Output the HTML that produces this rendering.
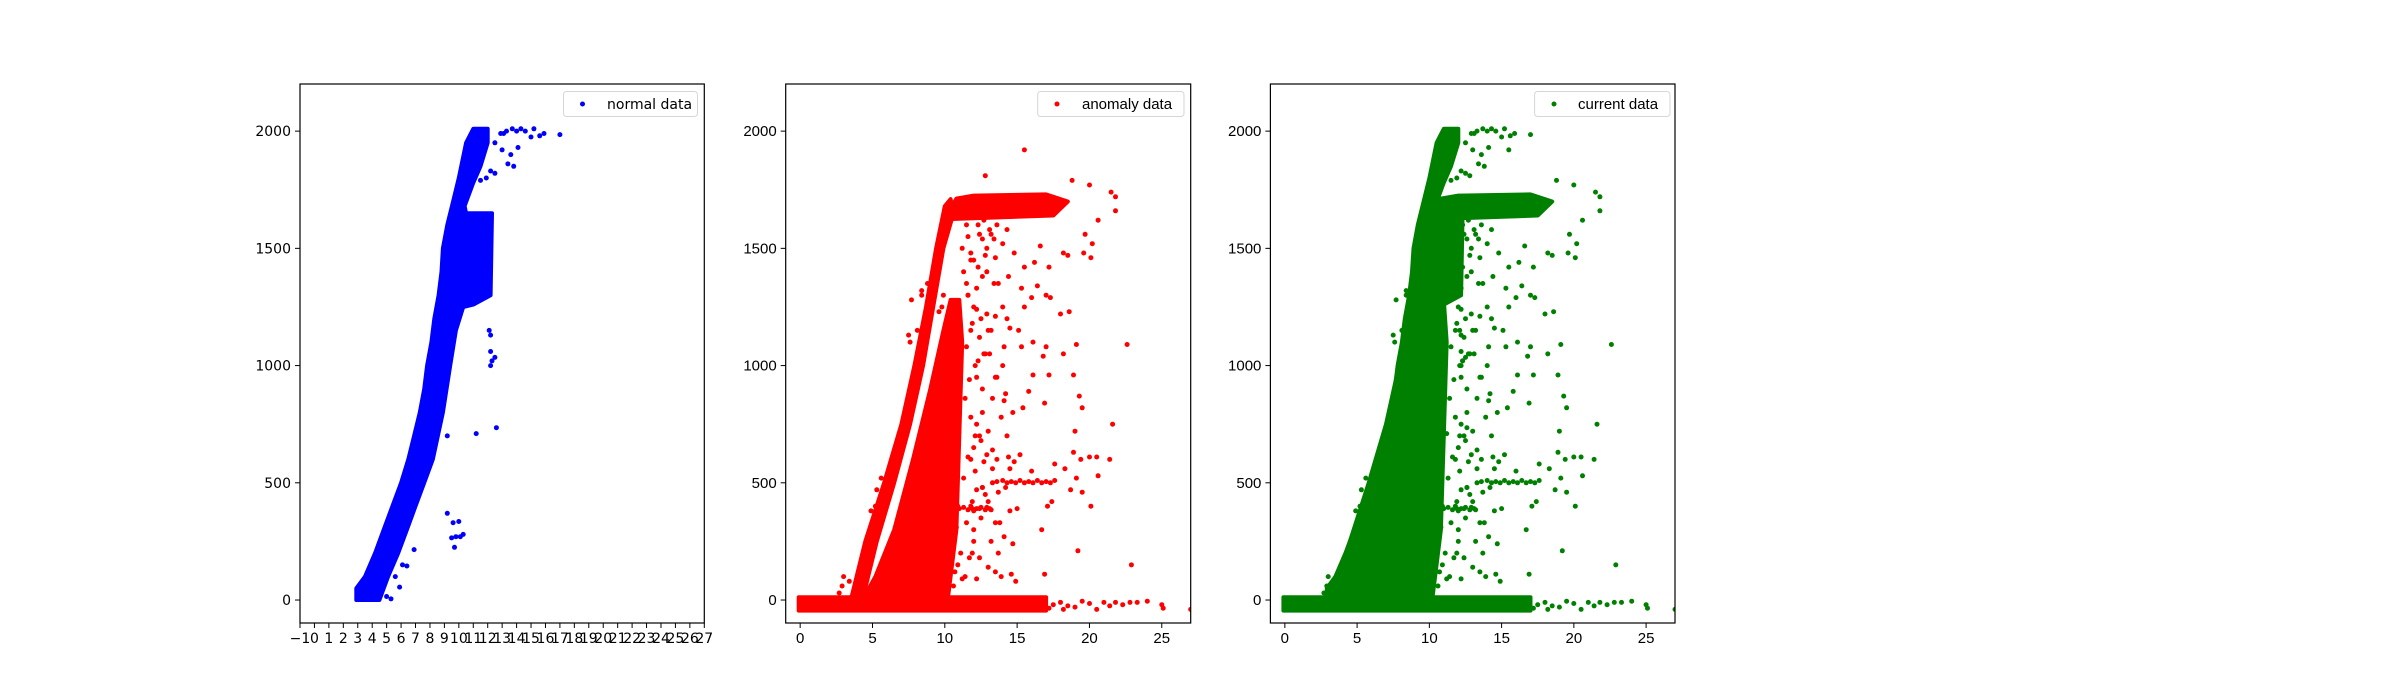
<!DOCTYPE html>
<html><head><meta charset="utf-8">
<style>
html,body{margin:0;padding:0;background:#fff;}
svg{display:block;}
text{font-family:"DejaVu Sans","Liberation Sans",sans-serif;font-size:14px;fill:#000;}
.narrow text{font-family:"Liberation Sans Narrow","Liberation Sans",sans-serif;font-size:15px;}
</style></head>
<body>
<svg id="chart" width="2400" height="700" viewBox="0 0 2400 700" xmlns="http://www.w3.org/2000/svg">
<rect width="2400" height="700" fill="#fff"/>
</svg>
<script>
// ---- data ----
const xTicksFull = [-1,0,1,2,3,4,5,6,7,8,9,10,11,12,13,14,15,16,17,18,19,20,21,22,23,24,25,26,27];
const xTicksFive = [0,5,10,15,20,25];
const yTicks = [0,500,1000,1500,2000];
const xDomain = [-1,27];
const yDomain = [-98,2201];

// normal data dense region outline
const normalBandX = [2.9,2.9,3.5,4.2,4.8,5.4,6.0,6.5,6.9,7.3,7.6,7.8,8.1,8.3,8.6,8.8,8.9,9.2,9.6,10.0,10.5,11.0,12.0,12.0,11.5,11.0,10.4,10.5,12.3,12.2,11.0,10.3,9.8,9.4,8.9,8.2,7.6,7.0,6.4,5.8,5.1,4.5];
const normalBandY = [0,50,100,200,300,400,500,600,700,800,900,1000,1100,1200,1300,1400,1500,1600,1700,1800,1950,2010,2010,1950,1850,1780,1680,1650,1650,1300,1260,1250,1150,1000,800,600,500,400,300,200,100,0];
const normalX = [9.2,9.6,10.0,9.5,9.8,10.1,10.3,9.7,6.9,6.1,6.4,5.6,5.9,5.0,5.3,9.2,11.2,12.6,12.1,12.2,12.2,12.3,12.2,12.5,13.1,13.3,13.7,14.0,14.3,14.6,15.2,15.6,15.9,17.0,12.5,13.0,13.6,14.1,13.4,13.8,12.5,12.2,11.5,11.9,15.0,12.9];
const normalY = [370,330,335,265,270,270,280,225,215,150,145,100,55,15,5,700,710,735,1150,1130,1060,1020,1000,1035,1990,2000,2010,2000,2010,2000,2010,1980,1990,1985,1950,1920,1900,1930,1860,1850,1820,1830,1790,1800,1975,1990];

// anomaly dense regions
const anomBottomX = [-0.1,17,17,-0.1];
const anomBottomY = [-45,-45,12,12];
const anomStreakX = [3.5,4.5,5.8,7.0,7.9,8.7,9.4,10.0,10.4,10.6,9.9,9.2,8.5,7.6,6.5,5.3,4.3];
const anomStreakY = [0,250,500,750,1000,1250,1500,1680,1710,1650,1500,1250,1000,750,500,250,0];
const anomWedgeX = [4.3,10.2,10.8,11.0,11.2,11.0,10.4,9.9,9.0,7.8,6.5,5.2];
const anomWedgeY = [0,0,300,700,1100,1280,1280,1150,900,600,300,100];
const anomTopX = [10.5,17.5,18.5,17.0,12.0,10.8,10.3];
const anomTopY = [1625,1640,1700,1730,1725,1712,1660];
const anomX = [12.8,15.5,18.8,20.0,21.5,21.8,21.8,20.6,19.7,20.2,19.6,20.1,18.2,18.5,17.2,16.2,15.5,14.8,14.0,13.2,12.3,12.6,13.6,14.3,15.1,16.6,12.0,12.8,13.5,14.4,15.3,16.4,17.0,16.0,15.5,17.3,18.0,18.6,
12.2,12.5,12.9,13.5,14.3,14.5,15.1,14.1,14.0,13.1,13.5,12.6,12.1,12.4,15.3,16.1,17.0,16.1,15.8,15.4,14.7,14.1,13.3,12.6,13.0,12.2,12.0,14.3,16.9,18.2,19.1,18.9,19.3,19.5,19.0,21.6,22.6,16.8,17.2,7.7,7.5,8.4,
11.8,12.7,13.6,14.4,14.8,15.2,16.0,17.6,18.3,18.9,19.4,20.0,20.5,21.4,19.1,20.6,18.7,19.5,20.1,17.4,17.1,16.7,16.9,19.2,22.9,14.5,15.0,14.1,13.7,13.0,12.2,13.9,14.6,14.9,12.0,11.9,12.5,13.2,13.5,14.2,13.7,12.8,12.2,11.8,12.0,12.4,12.9,13.2,3.0,2.9,2.7,3.4,4.0,5.2,4.9,5.6,5.3,4.7,
14.0,14.3,14.6,14.9,15.2,15.5,15.8,16.1,16.4,16.7,17.0,17.3,17.6,13.6,13.3,
11.0,11.3,11.6,11.9,12.2,12.5,12.8,13.1,
17.5,18.0,18.5,19.0,19.5,20.0,20.5,21.0,21.4,21.8,22.3,22.8,23.3,24.0,25.0,25.1,27.0,16.5,17.2,18.2,
11.5,11.8,11.6,11.2,12.0,11.8,11.6,12.3,12.6,12.9,13.4,12.2,12.7,13.0,12.4,12.9,13.3,12.1,12.6,
11.4,11.7,12.0,11.5,11.9,11.3,11.6,12.1,11.8,11.4,11.7,12.3,11.5,11.9,12.2,11.6,11.3,11.8,12.4,11.5,
10.6,10.9,10.5,10.8,11.1,10.7,10.4,10.9,11.2,10.6,9.8,10.2,9.6,9.9,9.4,8.8,8.4,9.0,8.1,7.6,
12.7,13.1,13.4,12.9,13.7,14.0,13.2,12.8,13.6,14.2,13.9,12.5,13.3,14.5,12.6,13.0,13.8,14.7,12.4,13.5];
const anomY = [1810,1920,1790,1770,1740,1720,1660,1620,1560,1520,1480,1460,1480,1470,1420,1440,1420,1480,1520,1560,1600,1540,1600,1580,1640,1510,1450,1470,1460,1380,1330,1340,1300,1290,1250,1290,1220,1230,
1330,1200,1220,1210,1200,1160,1150,1080,1000,1050,950,900,1000,1120,1080,1100,1080,960,890,820,800,850,860,800,720,750,650,700,840,1050,1090,960,870,820,720,750,1090,1040,960,1280,1130,1320,
600,590,600,610,590,620,550,580,560,630,600,610,610,600,520,530,470,460,400,420,400,300,110,210,150,380,390,270,200,140,90,100,110,80,300,200,350,250,330,480,460,450,470,400,380,390,395,385,100,60,30,80,40,400,380,520,470,250,
510,500,505,500,510,500,505,500,510,500,505,500,510,505,500,
390,395,385,390,390,395,385,390,
-20,-10,-25,-30,-5,-15,-40,-10,-25,-10,-20,-10,-10,-5,-20,-35,-40,-15,-35,-40,
1350,1450,1550,1500,1250,1150,1300,1420,1380,1500,1350,950,1050,1150,700,620,560,550,480,
100,180,250,330,420,520,610,700,780,860,940,1020,1080,1180,1240,1300,1400,1480,1560,1600,
60,150,230,310,200,120,280,400,90,350,1250,1200,1230,1300,1360,1350,1300,1200,1150,1100,
1620,1580,1540,1400,1350,1250,1150,1050,950,880,780,680,640,560,480,420,330,240,180,120];

// ---- drawing ----
const NS = 'http://www.w3.org/2000/svg';
const svg = document.getElementById('chart');
const top0 = 84, bottom0 = 623;
const panels = [
  {left:300, right:704.3, color:'#0000ff', label:'normal data', name:'normal', ticks:xTicksFull, narrow:false, sets:['normal'], legend:[563.5,582.5,607,697.5]},
  {left:785.7, right:1190.7, color:'#ff0000', label:'anomaly data', name:'anomaly', ticks:xTicksFive, narrow:true, sets:['anom'], legend:[1037.7,1057,1082,1184]},
  {left:1270.4, right:1675, color:'#008000', label:'current data', name:'current', ticks:xTicksFive, narrow:true, sets:['normal','anom'], legend:[1534.6,1554,1578,1670]}
];
function mk(tag, attrs, parent){
  const e = document.createElementNS(NS, tag);
  for (const k in attrs) e.setAttribute(k, attrs[k]);
  parent.appendChild(e);
  return e;
}
panels.forEach(p => {
  const g = mk('g', {}, svg);
  
  
  if (p.narrow) g.setAttribute('class', 'narrow');
  const sx = v => p.left + (v - xDomain[0]) / (xDomain[1] - xDomain[0]) * (p.right - p.left);
  const sy = v => bottom0 - (v - yDomain[0]) / (yDomain[1] - yDomain[0]) * (bottom0 - top0);
  const clipId = 'clip-' + p.name;
  const cp = mk('clipPath', {id: clipId}, g);
  mk('rect', {x:p.left, y:top0, width:p.right-p.left, height:bottom0-top0}, cp);
  const marks = mk('g', {'clip-path':'url(#'+clipId+')'}, g);
  
  
  function poly(xs, ys, nm){
    const pts = xs.map((x,i) => sx(x).toFixed(1)+','+sy(ys[i]).toFixed(1)).join(' ');
    const e = mk('polygon', {points:pts, fill:p.color, stroke:p.color, 'stroke-width':4, 'stroke-linejoin':'round'}, marks);
    
    
  }
  function dots(xs, ys, nm){
    xs.forEach((x,i) => {
      const c = mk('circle', {cx:sx(x).toFixed(1), cy:sy(ys[i]).toFixed(1), r:2.5, fill:p.color}, marks);
      
      
    });
  }
  if (p.sets.includes('anom')) {
    poly(anomBottomX, anomBottomY, 'dense-bottom-band');
    poly(anomStreakX, anomStreakY, 'dense-streak');
    poly(anomWedgeX, anomWedgeY, 'dense-wedge');
    poly(anomTopX, anomTopY, 'dense-top-band');
    dots(anomX, anomY, 'data-point');
  }
  if (p.sets.includes('normal')) {
    poly(normalBandX, normalBandY, 'dense-band');
    dots(normalX, normalY, 'data-point');
  }
  const fr = mk('rect', {x:p.left, y:top0, width:p.right-p.left, height:bottom0-top0, fill:'none', stroke:'#000', 'stroke-width':1.2}, g);
  
  
  p.ticks.forEach(t => {
    const x = sx(t);
    mk('line', {x1:x, x2:x, y1:bottom0, y2:bottom0+5, stroke:'#000', 'stroke-width':1}, g);
    const tx = mk('text', {x:x, y:bottom0+20, 'text-anchor':'middle'}, g);
    tx.textContent = t < 0 ? '\u2212' + (-t) : String(t);
    
    
  });
  yTicks.forEach(t => {
    const y = sy(t);
    mk('line', {x1:p.left-5, x2:p.left, y1:y, y2:y, stroke:'#000', 'stroke-width':1}, g);
    const ty = mk('text', {x:p.left-9, y:y+5, 'text-anchor':'end'}, g);
    ty.textContent = String(t);
    
    
  });
  const lg = mk('g', {}, g);
  
  
  const [lx, mx, tx0, rx] = p.legend;
  mk('rect', {x:lx, y:91.5, width:rx-lx, height:25, rx:3, fill:'#fff', stroke:'#d6d6d6', 'stroke-width':1}, lg);
  mk('circle', {cx:mx, cy:104, r:2.5, fill:p.color}, lg);
  const lt = mk('text', {x:tx0, y:109}, lg);
  lt.textContent = p.label;
  
  
});
</script>
</body></html>
